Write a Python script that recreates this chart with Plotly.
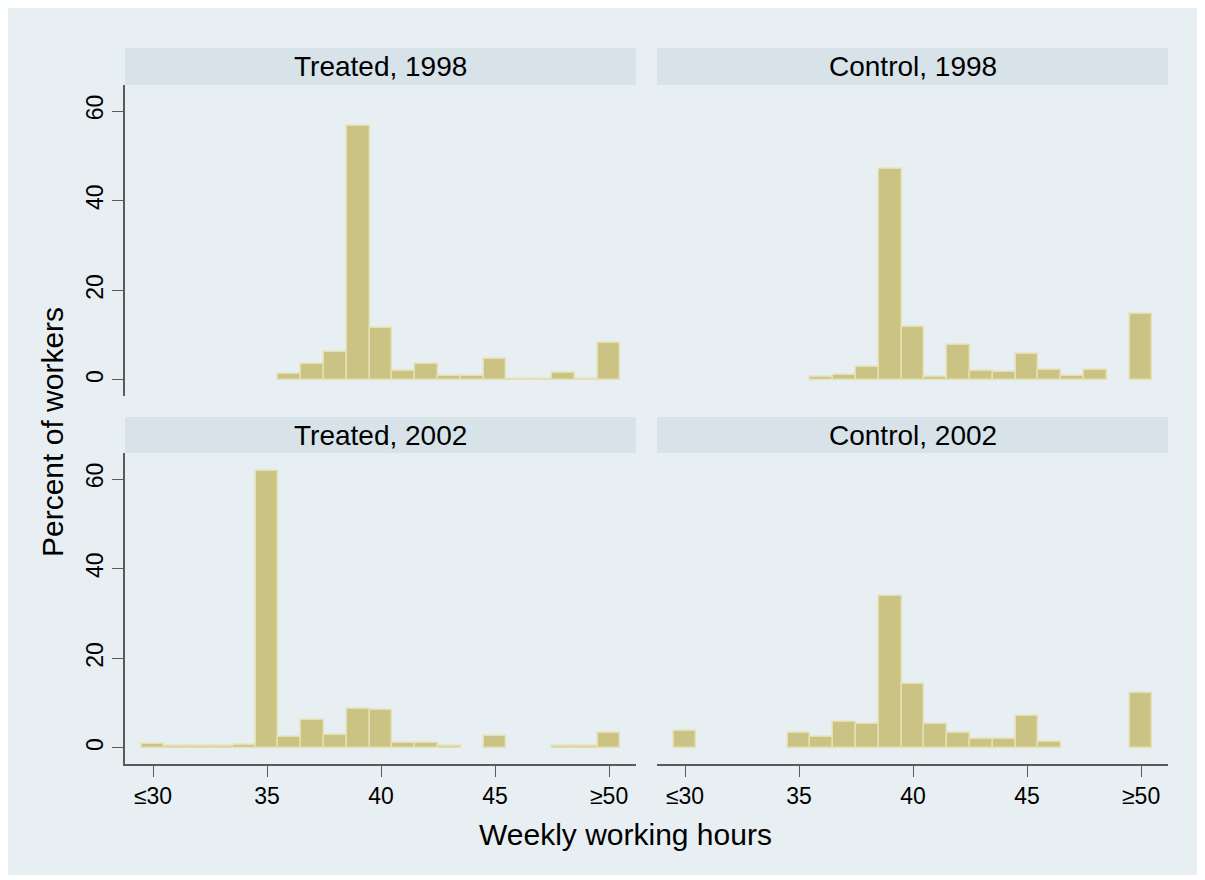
import plotly.graph_objects as go

hours = list(range(30, 51))
tick_vals = [30, 35, 40, 45, 50]
tick_text = ["≤30", "35", "40", "45", "≥50"]
y_ticks = [0, 20, 40, 60]

panel_titles = ["Treated, 1998", "Control, 1998", "Treated, 2002", "Control, 2002"]

# percent of workers per weekly-hours bin, 30..50
treated_1998 = [0, 0, 0, 0, 0, 0, 1.3, 3.6, 6.3, 56.6, 11.5, 1.9, 3.6, 1.0, 0.8, 4.6, 0.3, 0.3, 1.5, 0.3, 8.2]
control_1998 = [0, 0, 0, 0, 0, 0, 0.7, 1.1, 2.8, 47.0, 11.9, 0.6, 7.9, 2.0, 1.8, 5.9, 2.3, 0.8, 2.3, 0, 14.7]
treated_2002 = [0.9, 0.4, 0.4, 0.4, 0.7, 61.8, 2.4, 6.2, 2.8, 8.7, 8.5, 1.1, 1.1, 0.4, 0, 2.7, 0, 0, 0.4, 0.4, 3.3]
control_2002 = [3.7, 0, 0, 0, 0, 3.3, 2.4, 5.8, 5.3, 33.9, 14.3, 5.3, 3.3, 1.9, 1.9, 7.1, 1.3, 0, 0, 0, 12.2]

series = [treated_1998, control_1998, treated_2002, control_2002]

# the page body has an 8px default margin; work in window pixels
OFF = 8
W, H = 1205 - OFF, 880 - OFF
def fx(px):
    return (px - OFF) / W
def fy(py):
    return 1 - (py - OFF) / H

BAR_FILL = "#cbc383"
BAR_LINE = "#e4e0b4"
OUTER = "#e8eff2"
HEADER = "#d7e3e9"
GRID = "#e6eef1"
AXIS = "#5a5a5a"
FONT = "Liberation Sans, Arial, sans-serif"

# panel pixel boxes
cols = [(125, 636), (657, 1168)]
rows = [(48, 85, 396), (417, 453, 764)]

fig = go.Figure()
shapes = [dict(type="rect", xref="paper", yref="paper", x0=fx(8), x1=fx(1200), y0=fy(875), y1=fy(8),
               fillcolor=OUTER, line=dict(width=0), layer="below")]
annotations = []

xr = [28.77, 51.18]
yr = [-3.57, 65.8]

for i, vals in enumerate(series):
    r, c = divmod(i, 2)
    x0, x1 = cols[c]
    ht, pt, pb = rows[r]
    ax = "" if i == 0 else str(i + 1)
    xs = [h for h, v in zip(hours, vals) if v > 0]
    ys = [v for v in vals if v > 0]
    fig.add_trace(go.Bar(x=xs, y=ys, width=1, marker=dict(color=BAR_FILL, line=dict(color=BAR_LINE, width=1.5)),
                         xaxis="x" + ax, yaxis="y" + ax, showlegend=False, hoverinfo="skip"))
    xa = dict(domain=[fx(x0), fx(x1)], range=xr, anchor="y" + ax, showgrid=False, zeroline=False,
              fixedrange=True)
    if r == 1:
        xa.update(showline=True, linecolor=AXIS, linewidth=1.5, ticks="outside", ticklen=11, tickwidth=1,
                  tickcolor=AXIS, tickvals=tick_vals, ticktext=tick_text,
                  tickfont=dict(family=FONT, size=23, color="black"))
    else:
        xa.update(showticklabels=False, showline=False, ticks="")
    ya = dict(domain=[fy(pb), fy(pt)], range=yr, anchor="x" + ax, showgrid=True, gridcolor=GRID, gridwidth=2,
              zeroline=False, tickvals=y_ticks, fixedrange=True)
    if c == 0:
        ya.update(showline=True, linecolor=AXIS, linewidth=1.5, ticks="outside", ticklen=11, tickwidth=1,
                  tickcolor=AXIS, tickangle=-90, tickfont=dict(family=FONT, size=23, color="black"))
    else:
        ya.update(showticklabels=False, showline=False, ticks="")
    fig.update_layout(**{"xaxis" + ax: xa, "yaxis" + ax: ya})
    shapes.append(dict(type="rect", xref="paper", yref="paper", x0=fx(x0), x1=fx(x1), y0=fy(pt), y1=fy(ht),
                       fillcolor=HEADER, line=dict(width=0)))
    annotations.append(dict(text=panel_titles[i], x=fx((x0 + x1) / 2), y=fy((ht + pt) / 2), xref="paper",
                            yref="paper", showarrow=False, xanchor="center", yanchor="middle",
                            font=dict(family=FONT, size=28, color="black")))

annotations.append(dict(text="Percent of workers", x=fx(52), y=fy(432), xref="paper", yref="paper",
                        showarrow=False, textangle=-90, xanchor="center", yanchor="middle",
                        font=dict(family=FONT, size=30, color="black")))
annotations.append(dict(text="Weekly working hours", x=fx(625), y=fy(834), xref="paper", yref="paper",
                        showarrow=False, xanchor="center", yanchor="middle",
                        font=dict(family=FONT, size=30, color="black")))

fig.update_layout(width=W, height=H, margin=dict(l=0, r=0, t=0, b=0), paper_bgcolor="white",
                  plot_bgcolor="white", shapes=shapes, annotations=annotations, bargap=0, showlegend=False,
                  font=dict(family=FONT))

fig.write_html("out.html", config={"displayModeBar": False})
